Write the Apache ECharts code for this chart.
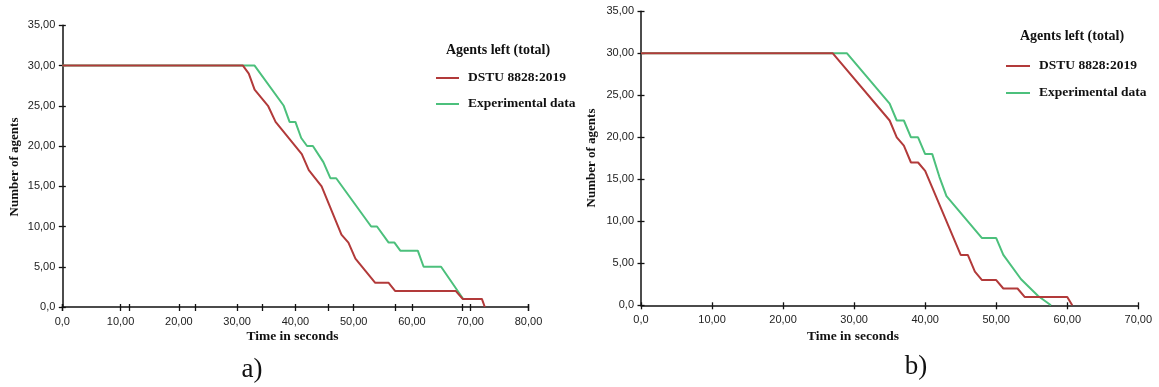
<!DOCTYPE html>
<html>
<head>
<meta charset="utf-8">
<script src="https://cdn.jsdelivr.net/npm/echarts@6/dist/echarts.min.js"></script>
<style>
  html, body { margin: 0; padding: 0; background: #fff; }
  #chart { width: 1159px; height: 387px; }
</style>
</head>
<body>
<div id="chart"></div>
<script>
// ---------- data ----------
const seriesNames = ['DSTU 8828:2019', 'Experimental data'];
const legendTitle = 'Agents left (total)';
const xTitle = 'Time in seconds';
const yTitle = 'Number of agents';
const panelLabels = ['a)', 'b)'];

// chart a)
const dstuA = [[0,30],[31,30],[32,29],[33,27],[35.3,25],[36.6,23],[41.1,19],[42.3,17],[44.5,15],[47.9,9],[49.1,8],[50.3,6],[53.7,3],[56,3],[57.1,2],[67.5,2],[68.7,1],[72,1],[72.5,0]];
const expA  = [[0,30],[33,30],[38,25],[39,23],[40,23],[41,21],[42,20],[43,20],[44.8,18],[46,16],[47,16],[53,10],[54,10],[56,8],[57,8],[58,7],[61,7],[62,5],[65,5],[68.8,1]];
// chart b)
const dstuB = [[0,30],[27,30],[35,22],[36,20],[37,19],[38,17],[39,17],[40,16],[41,14],[45,6],[46,6],[47,4],[48,3],[50,3],[51,2],[53,2],[54,1],[60,1],[60.7,0]];
const expB  = [[0,30],[29,30],[35,24],[36,22],[37,22],[38,20],[39,20],[40,18],[41,18],[42,15.3],[43,13],[48,8],[50,8],[51,6],[53.5,3.1],[55.9,1.1],[57.7,0]];

// axis ranges / tick labels
const xMaxA = 80, xMaxB = 70, xStep = 10;
const xExtraStepA = 80 / 7;   // secondary tick marks on chart a)
const yMax = 35, yStep = 5;
const fmt = v => (v === 0 ? '0,0' : v.toFixed(2).replace('.', ','));

// ---------- styles ----------
const RED = '#b23a3a', GREEN = '#4cc07c';
const AXIS = '#111';
const labelFont = { fontFamily: 'Liberation Sans, Arial, sans-serif', fontSize: 11, color: '#222' };
const serifBold = 'Liberation Serif, Times New Roman, serif';

const grids = [
  { left: 62.3, top: 25.3, width: 466.2, height: 281.7 },
  { left: 641, top: 11.3, width: 497.3, height: 294 }
];

function xAxes(gridIndex, max, interval, withLabels) {
  const base = { type: 'value', gridIndex, min: 0, max, interval, position: 'bottom', splitLine: { show: false } };
  return [
    Object.assign({}, base, {
      axisLine: { show: withLabels, onZero: false, lineStyle: { color: AXIS, width: 1.5 } },
      axisTick: { show: true, inside: false, length: 4, lineStyle: { color: AXIS, width: 1.3 } },
      axisLabel: withLabels ? Object.assign({ show: true, margin: 9, formatter: fmt }, labelFont) : { show: false }
    }),
    Object.assign({}, base, {
      axisLine: { show: false },
      axisTick: { show: true, inside: true, length: 3, lineStyle: { color: AXIS, width: 1.3 } },
      axisLabel: { show: false }
    })
  ];
}
function yAxes(gridIndex) {
  const base = { type: 'value', gridIndex, min: 0, max: yMax, interval: yStep, position: 'left', splitLine: { show: false } };
  return [
    Object.assign({}, base, {
      axisLine: { show: true, onZero: false, lineStyle: { color: AXIS, width: 1.5 } },
      axisTick: { show: true, inside: false, length: 3.5, lineStyle: { color: AXIS, width: 1.3 } },
      axisLabel: Object.assign({ show: true, margin: 7, formatter: fmt }, labelFont)
    }),
    Object.assign({}, base, {
      axisLine: { show: false },
      axisTick: { show: true, inside: true, length: 3.5, lineStyle: { color: AXIS, width: 1.3 } },
      axisLabel: { show: false }
    })
  ];
}

const xAxisList = [].concat(
  xAxes(0, xMaxA, xStep, true),       // 0,1
  xAxes(1, xMaxB, xStep, true),       // 2,3
  xAxes(0, xMaxA, xExtraStepA, false) // 4,5
);
const yAxisList = [].concat(yAxes(0), yAxes(1)); // 0,1 | 2,3

function line(name, data, color, xi, yi) {
  return {
    name, type: 'line', data, xAxisIndex: xi, yAxisIndex: yi,
    symbol: 'none', smooth: false,
    lineStyle: { color, width: 2 }, itemStyle: { color },
    z: name === seriesNames[0] ? 3 : 2
  };
}

const legendText = { fontFamily: serifBold, fontWeight: 'bold', fontSize: 13.5, color: '#111', padding: [0, 0, 0, 4] };

function textEl(x, y, text, opts) {
  return {
    type: 'text', x, y, rotation: opts.rotation || 0,
    style: Object.assign({ text, textAlign: 'center', textVerticalAlign: 'middle', fill: '#111' }, opts.style)
  };
}
const titleStyle = { font: 'bold 13.5px ' + serifBold };

const option = {
  animation: false,
  backgroundColor: '#fff',
  grid: grids,
  xAxis: xAxisList,
  yAxis: yAxisList,
  legend: [
    { orient: 'vertical', left: 431, top: 66, icon: 'rect', itemWidth: 23, itemHeight: 2, itemGap: 12,
      data: seriesNames, textStyle: legendText, selectedMode: false },
    { orient: 'vertical', left: 1001, top: 54, icon: 'rect', itemWidth: 24, itemHeight: 2, itemGap: 13,
      data: seriesNames, textStyle: legendText, selectedMode: false }
  ],
  series: [
    line(seriesNames[1], expA, GREEN, 0, 0),
    line(seriesNames[0], dstuA, RED, 0, 0),
    line(seriesNames[1], expB, GREEN, 2, 2),
    line(seriesNames[0], dstuB, RED, 2, 2)
  ],
  graphic: [
    textEl(498, 50, legendTitle, { style: { font: 'bold 14px ' + serifBold } }),
    textEl(1072, 36, legendTitle, { style: { font: 'bold 14px ' + serifBold } }),
    textEl(292.5, 337, xTitle, { style: titleStyle }),
    textEl(853, 337, xTitle, { style: titleStyle }),
    textEl(15, 167, yTitle, { rotation: Math.PI / 2, style: { font: 'bold 13px ' + serifBold } }),
    textEl(592, 158, yTitle, { rotation: Math.PI / 2, style: { font: 'bold 13px ' + serifBold } }),
    textEl(252, 370, panelLabels[0], { style: { font: '27px ' + serifBold } }),
    textEl(916, 367, panelLabels[1], { style: { font: '27px ' + serifBold } })
  ]
};

const chart = echarts.init(document.getElementById('chart'), null, { renderer: 'canvas' });
chart.setOption(option);
</script>
</body>
</html>
